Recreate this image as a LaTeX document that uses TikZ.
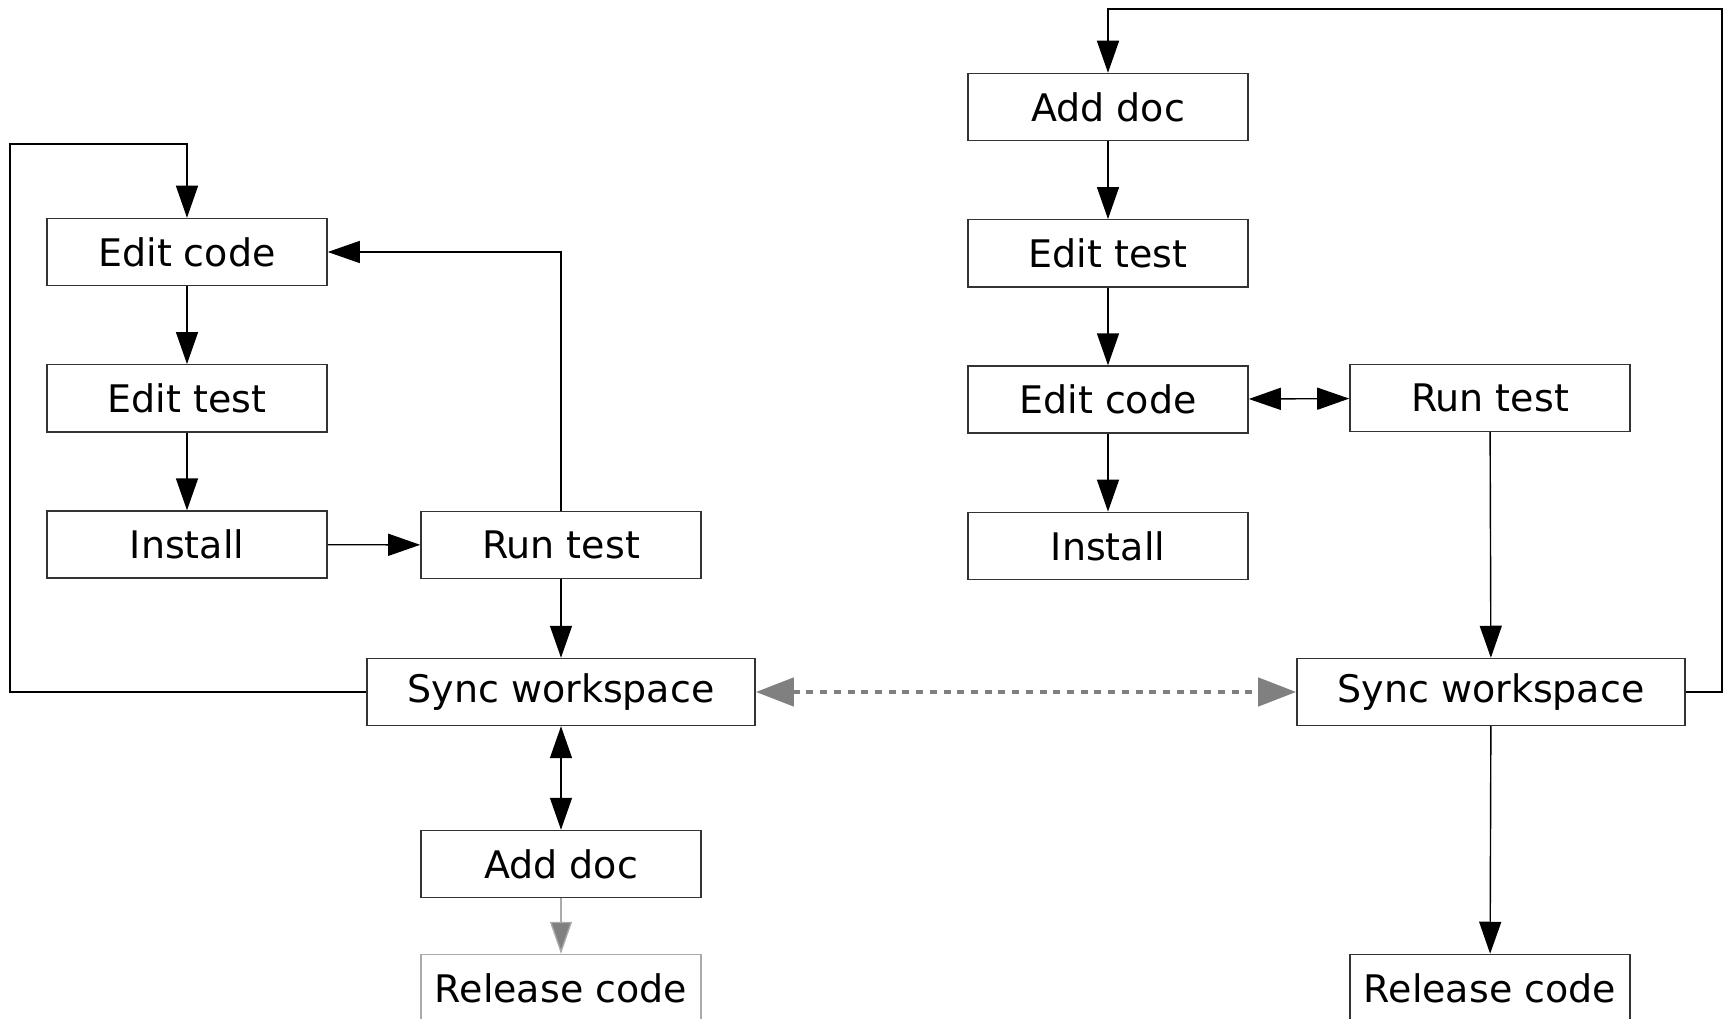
\documentclass[tikz,border=0pt]{standalone}
\usepackage{fontspec}
\setmainfont{DejaVu Sans}
\usetikzlibrary{positioning,arrows.meta}

\definecolor{edge}{HTML}{333333}
\definecolor{faint}{HTML}{AAAAAA}

\begin{document}
\begin{tikzpicture}[x=0.01cm, y=-0.01cm, node distance={7.78mm},
    box/.style={draw=edge, minimum width=2.8cm, minimum height=0.67cm, inner sep=0pt, font=\fontsize{10.8}{13}\selectfont},
    wide/.style={box, minimum width=3.88cm},
    arr/.style={-{Triangle[length=3.2mm, width=2.2mm]}},
    darr/.style={{Triangle[length=3.2mm, width=2.2mm]}-{Triangle[length=3.2mm, width=2.2mm]}},
    garr/.style={gray, line width=1.3pt, dash pattern=on 2pt off 1.9pt, {Triangle[length=3.8mm, width=2.8mm]}-{Triangle[length=3.8mm, width=2.8mm]}}]
    \useasboundingbox (0,0) rectangle (1723,1019);

    % left flow
    \node[box] (ec1) at (187,252) {Edit code};
    \node[box] (et1) [below=of ec1] {Edit test};
    \node[box] (in1) [below=of et1] {Install};
    \node[box] (rt1) at (561,545) {Run test};
    \node[wide] (sw1) at (561,692) {Sync workspace};
    \node[box] (ad1) at (561,864) {Add doc};
    \node[box, draw=faint] (rc1) at (561,988) {Release code};

    % right flow
    \node[box] (ad2) at (1108,107) {Add doc};
    \node[box] (et2) [below=of ad2] {Edit test};
    \node[box] (ec2) [below=of et2] {Edit code};
    \node[box] (in2) [below=of ec2] {Install};
    \node[box] (rt2) at (1490,398) {Run test};
    \node[wide] (sw2) at (1491,692) {Sync workspace};
    \node[box] (rc2) at (1490,988) {Release code};

    \coordinate (lpL) at (10,144);
    \coordinate (lpR) at (1722,9);

    \draw[arr] (ec1) -- (et1);
    \draw[arr] (et1) -- (in1);
    \draw[arr] (in1) -- (rt1);
    \draw[arr] (rt1.north) |- (ec1.east);
    \draw[arr] (rt1) -- (sw1);
    \draw[arr] (sw1.west) -| (lpL) -| (ec1.north);
    \draw[darr] (sw1) -- (ad1);
    \draw[faint, -{Triangle[length=3.2mm, width=2.2mm, fill=gray]}] (ad1) -- (rc1);

    \draw[arr] (ad2) -- (et2);
    \draw[arr] (et2) -- (ec2);
    \draw[arr] (ec2) -- (in2);
    \draw[darr] (ec2) -- (rt2);
    \draw[arr] (rt2) -- (sw2);
    \draw[arr] (sw2) -- (rc2);
    \draw[arr] (sw2.east) -| (lpR) -| (ad2.north);

    \draw[garr] (sw1) -- (sw2);
\end{tikzpicture}
\end{document}
